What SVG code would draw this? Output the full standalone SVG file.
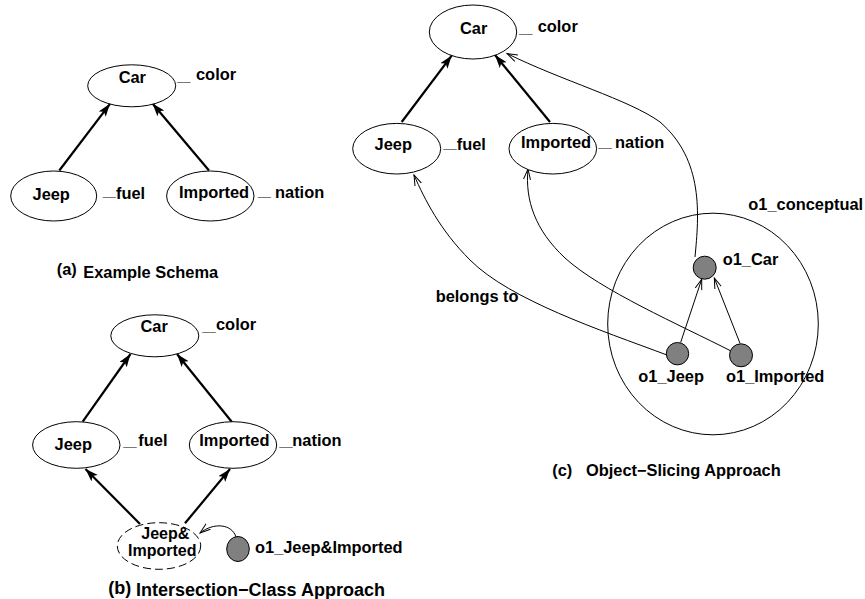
<svg xmlns="http://www.w3.org/2000/svg" width="865" height="599" viewBox="0 0 865 599">
<style>
text{font-family:"Liberation Sans",Arial,Helvetica,sans-serif;font-weight:bold;font-size:16.4px;fill:#000}
.u{font-size:12px}
.cap{font-size:16.4px}
.capb{font-size:18px}
.two{font-size:16px}
.node{fill:#fff;stroke:#000;stroke-width:1}
.dash{fill:#fff;stroke:#000;stroke-width:1;stroke-dasharray:8 4}
.obj{fill:#808080;stroke:#000;stroke-width:1}
.thick{fill:none;stroke:#000;stroke-width:2.2;marker-end:url(#fa)}
.thin{fill:none;stroke:#000;stroke-width:1;marker-end:url(#oa)}
</style>
<defs>
<marker id="fa" markerUnits="userSpaceOnUse" markerWidth="14" markerHeight="10" refX="13" refY="4.5" orient="auto"><path d="M0,0 L13,4.5 L0,9 L3,4.5 z" fill="#000"/></marker>
<marker id="oa" markerUnits="userSpaceOnUse" markerWidth="12" markerHeight="9" refX="10.5" refY="4" orient="auto"><path d="M0,0.5 L10.5,4 L0,7.5" fill="none" stroke="#000" stroke-width="1"/></marker>
</defs>
<rect width="865" height="599" fill="#fff"/>

<g id="connectors">
<line class="thick" x1="59.3" y1="170.5" x2="110" y2="103.8"/>
<line class="thick" x1="209" y1="170.5" x2="152.5" y2="103.5"/>
<line class="thick" x1="82.7" y1="421.7" x2="130.5" y2="354"/>
<line class="thick" x1="231.7" y1="421.7" x2="177" y2="354"/>
<line class="thick" x1="140" y1="524" x2="85.5" y2="469"/>
<line class="thick" x1="185" y1="523.3" x2="230" y2="469"/>
<path class="thin" d="M236,537 C232,524 214,522 200,533"/>
<line class="thick" x1="401.7" y1="122" x2="451.7" y2="55.6"/>
<line class="thick" x1="550" y1="122" x2="495" y2="55"/>
<path class="thin" d="M695,257 C699,215 704,160 660,122 C630,100 560,80 507,53.5"/>
<path class="thin" d="M667,355 C600,330 510,300 470,260 C440,230 425,200 414,175"/>
<path class="thin" d="M731,351 C680,325 600,290 565,258 C535,230 525,200 528,169"/>
<line class="thin" x1="680.7" y1="342.3" x2="701.7" y2="279.3"/>
<line class="thin" x1="740" y1="343.3" x2="714.3" y2="278"/>
</g>

<g id="a-car"><ellipse class="node" cx="131.7" cy="85.8" rx="44" ry="21"/><text x="132.3" y="83.3" text-anchor="middle">Car</text>
<text><tspan class="u" x="177" y="81.2">__</tspan><tspan x="196" y="80">color</tspan></text></g>
<g id="a-jeep"><ellipse class="node" cx="53.7" cy="196" rx="43" ry="25"/><text x="51.2" y="199.5" text-anchor="middle">Jeep</text>
<text><tspan class="u" x="102.7" y="196.2">__</tspan><tspan x="116" y="199">fuel</tspan></text></g>
<g id="a-imported"><ellipse class="node" cx="210.3" cy="196" rx="43.7" ry="25"/><text x="179" y="198.3">Imported</text>
<text><tspan class="u" x="257.7" y="196.2">__</tspan><tspan x="275" y="198.3">nation</tspan></text></g>
<g id="a-caption"><text x="56.7" y="275">(a)</text><text class="cap" x="83.3" y="277.7">Example Schema</text></g>

<g id="b-car"><ellipse class="node" cx="154.8" cy="335.8" rx="44" ry="21"/><text x="154.2" y="332.3" text-anchor="middle">Car</text>
<text><tspan class="u" x="202.3" y="331.2">__</tspan><tspan x="216" y="330">color</tspan></text></g>
<g id="b-jeep"><ellipse class="node" cx="76.3" cy="445" rx="43.7" ry="23.3"/><text x="73.3" y="449.5" text-anchor="middle">Jeep</text>
<text><tspan class="u" x="123.3" y="446.2">__</tspan><tspan x="138.3" y="445.7">fuel</tspan></text></g>
<g id="b-imported"><ellipse class="node" cx="233" cy="445" rx="43.7" ry="23.3"/><text x="199.3" y="445.7">Imported</text>
<text><tspan class="u" x="279.3" y="446.2">__</tspan><tspan x="292.3" y="445.7">nation</tspan></text></g>
<g id="b-jeep-imported"><ellipse class="dash" cx="159" cy="546" rx="41.7" ry="23.3"/><text class="two" x="165.3" y="538.5" text-anchor="middle">Jeep&amp;</text><text class="two" x="162.3" y="555.5" text-anchor="middle">Imported</text></g>
<g id="b-o1"><ellipse class="obj" cx="238" cy="549" rx="11.3" ry="12.5"/><text x="255" y="552.7">o1_Jeep&amp;Imported</text></g>
<g id="b-caption"><text class="capb" x="108.3" y="594">(b)</text><text class="capb" x="136" y="595.5">Intersection−Class Approach</text></g>

<g id="c-car"><ellipse class="node" cx="473" cy="32" rx="43.7" ry="27"/><text x="473.7" y="34.3" text-anchor="middle">Car</text>
<text><tspan class="u" x="519" y="32.9">__</tspan><tspan x="537.7" y="32.3">color</tspan></text></g>
<g id="c-jeep"><ellipse class="node" cx="396.7" cy="148.7" rx="44" ry="25.3"/><text x="393.3" y="150" text-anchor="middle">Jeep</text>
<text><tspan class="u" x="443.3" y="147.9">__</tspan><tspan x="456.7" y="150">fuel</tspan></text></g>
<g id="c-imported"><ellipse class="node" cx="552.8" cy="148.7" rx="43.8" ry="25.3"/><text x="521" y="148.3">Imported</text>
<text><tspan class="u" x="598.3" y="146.9">__</tspan><tspan x="615" y="148.3">nation</tspan></text></g>
<g id="c-conceptual"><ellipse fill="none" stroke="#000" stroke-width="1" cx="713" cy="324" rx="105.3" ry="110.8"/><text x="748.3" y="210">o1_conceptual</text></g>
<g id="c-o1car"><circle class="obj" cx="704.7" cy="267.7" r="11.5"/><text x="722.7" y="265">o1_Car</text></g>
<g id="c-o1jeep"><circle class="obj" cx="677.5" cy="353.7" r="11.2"/><text x="638.3" y="382.3">o1_Jeep</text></g>
<g id="c-o1imported"><circle class="obj" cx="741" cy="355.3" r="11.5"/><text x="726" y="382.3">o1_Imported</text></g>
<g id="c-belongs"><text x="435.7" y="301.7">belongs to</text></g>
<g id="c-caption"><text class="cap" x="552.3" y="476">(c)</text><text class="cap" x="586" y="476">Object−Slicing Approach</text></g>
</svg>
